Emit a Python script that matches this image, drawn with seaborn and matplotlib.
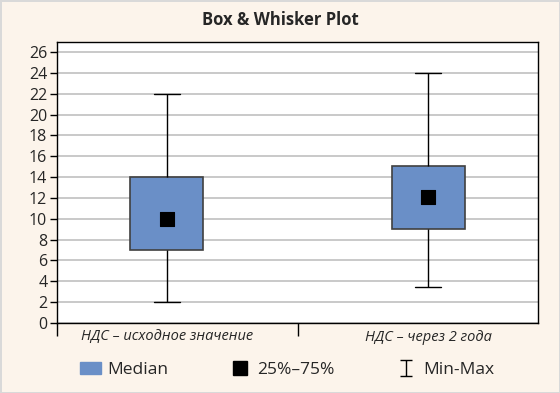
import matplotlib
matplotlib.use("Agg")
import matplotlib.pyplot as plt
import seaborn as sns
import pandas as pd
from matplotlib.path import Path
from matplotlib.patches import Patch
from matplotlib.lines import Line2D

# --------------------------------------------------
# Data
# --------------------------------------------------
groups = ["НДС – исходное значение", "НДС – через 2 года"]
mins = [2.0, 3.5]
q1 = [7.0, 9.0]
medians = [10.0, 12.1]
q3 = [14.0, 15.1]
maxs = [22.0, 24.0]

# five points per group -> quartiles land exactly on q1/q3
rows = []
for i, g in enumerate(groups):
    for v in (mins[i], q1[i], medians[i], q3[i], maxs[i]):
        rows.append({"group": g, "value": v})
df = pd.DataFrame(rows)
med_df = pd.DataFrame({"group": groups, "value": medians})

sns.set_theme(style="white")
plt.rcParams["font.family"] = ["Open Sans", "DejaVu Sans"]

bg = "#fcf4eb"
box_color = "#6a8fc7"

fig = plt.figure(figsize=(5.6, 3.93), dpi=100, facecolor=bg,
                 edgecolor="#d9d9d9", linewidth=2)
ax = fig.add_axes([57 / 560, 1 - 323 / 393, 481 / 560, 281 / 393])
ax.set_facecolor("white")

sns.boxplot(
    data=df, x="group", y="value", ax=ax,
    whis=(0, 100), width=0.28, color=box_color, saturation=1,
    linecolor="#404040", linewidth=1.2, showfliers=False,
    medianprops={"visible": False},
    whiskerprops={"color": "black", "linewidth": 1},
    capprops={"color": "black", "linewidth": 1},
    capwidths=0.1,
)
sns.scatterplot(data=med_df, x="group", y="value", ax=ax,
                marker="s", s=100, color="black", edgecolor="black",
                zorder=5, legend=False)

# axes
ax.set_xlim(-0.421, 1.421)
ax.set_ylim(0, 26.96)
ax.set_yticks(range(0, 27, 2))
ax.yaxis.grid(True, color="#c0c0c0", linewidth=1.2)
ax.set_axisbelow(True)
for s in ax.spines.values():
    s.set_color("black")
    s.set_linewidth(1)
ax.set_xlabel("")
ax.set_ylabel("")
ax.tick_params(axis="y", left=True, length=5, width=1, color="black",
               labelsize=11.5, pad=2)
ax.tick_params(axis="x", which="major", length=0, labelsize=10.5, pad=5)
ax.set_xticks([-0.421, 0.5], minor=True)
ax.tick_params(axis="x", which="minor", bottom=True, length=9, width=1,
               color="black")
for lbl in ax.get_xticklabels():
    lbl.set_fontstyle("italic")

fig.text(0.5, 1 - 20 / 393, "Box & Whisker Plot", ha="center", va="center",
         fontsize=12, fontweight="bold")

# legend
ibeam = Path([(-0.6, 0.8), (0.6, 0.8), (0, 0.8), (0, -0.8), (-0.6, -0.8),
              (0.6, -0.8)],
             [Path.MOVETO, Path.LINETO, Path.MOVETO, Path.LINETO,
              Path.MOVETO, Path.LINETO])
handles = [
    Patch(facecolor=box_color, edgecolor=box_color),
    Line2D([], [], marker="s", linestyle="", color="black", markersize=10),
    Line2D([], [], marker=ibeam, linestyle="", color="black",
           markersize=12, markeredgewidth=1),
]
fig.legend(handles, ["Median", "25%–75%", "Min-Max"], ncol=3,
           loc="center", bbox_to_anchor=(287 / 560, 1 - 370 / 393),
           frameon=False, fontsize=12.5, columnspacing=3.5,
           handlelength=1.2, handletextpad=0.4)

fig.savefig("out.png", dpi=100, facecolor=bg, edgecolor="#d9d9d9")
